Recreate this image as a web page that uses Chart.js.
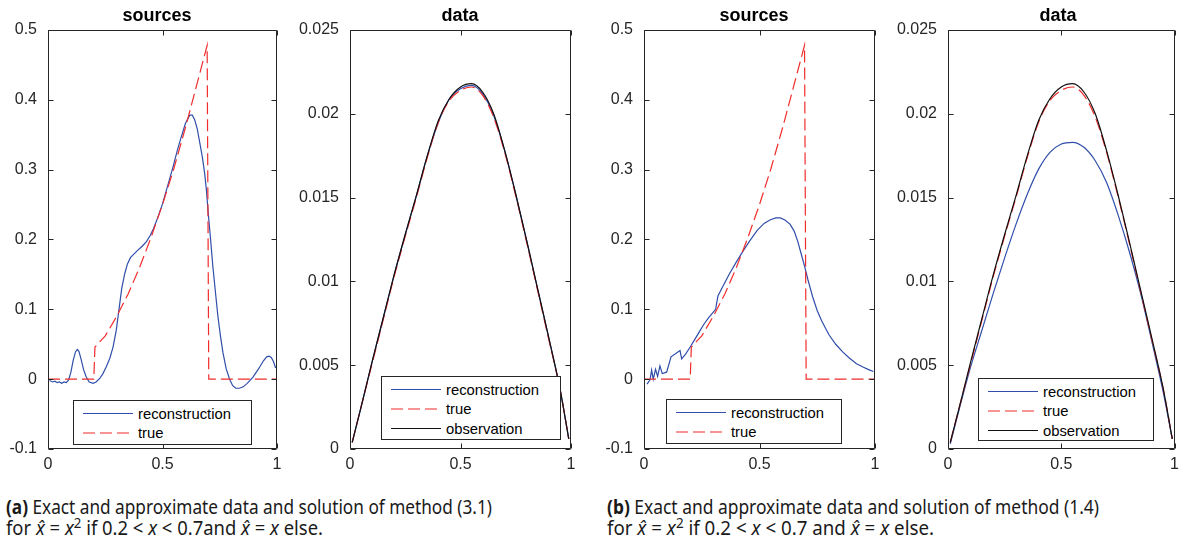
<!DOCTYPE html>
<html><head><meta charset="utf-8">
<script src="https://cdn.jsdelivr.net/npm/chart.js@4.4.0/dist/chart.umd.min.js"></script>
<style>
html,body{margin:0;padding:0;background:#fff;}
body{width:1185px;height:540px;overflow:hidden;position:relative;}
.wrap{position:absolute;top:0;height:480px;}
.ttl{position:absolute;top:4px;width:200px;font:bold 18px "Liberation Sans",Arial,sans-serif;line-height:22px;color:#000;text-align:center;}
.leg{position:absolute;border:1px solid #262626;background:#fff;box-sizing:border-box;}
.leg svg{position:absolute;left:0;top:0;}
.leg span{position:absolute;font:14.8px "Liberation Sans",Arial,sans-serif;color:#000;line-height:20px;white-space:nowrap;}
.cap{position:absolute;top:497px;font:19px "Noto Sans",sans-serif;line-height:21px;color:#1a1a1a;white-space:nowrap;}
.cap div{white-space:nowrap;transform-origin:0 0;}
.cap span.l{display:inline-block;}
.cap sup{font-size:0.72em;line-height:0;vertical-align:0.5em;}
</style></head><body>

<div id="p1" class="wrap" style="left:0px;width:290px"><canvas id="c1" width="290" height="480"></canvas></div>
<div id="p2" class="wrap" style="left:290px;width:300px"><canvas id="c2" width="300" height="480"></canvas></div>
<div id="p3" class="wrap" style="left:590px;width:300px"><canvas id="c3" width="300" height="480"></canvas></div>
<div id="p4" class="wrap" style="left:890px;width:295px"><canvas id="c4" width="295" height="480"></canvas></div>

<div class="ttl" style="left:57px">sources</div>
<div class="ttl" style="left:360px">data</div>
<div class="ttl" style="left:654px">sources</div>
<div class="ttl" style="left:958px">data</div>

<div class="cap" style="left:6px">
  <div data-w="486"><span class="l"><b>(a)</b> Exact and approximate data and solution of method (3.1)</span></div>
  <div data-w="317"><span class="l">for <i>x&#770;</i> = <i>x</i><sup>2</sup> if 0.2 &lt; <i>x</i> &lt; 0.7and <i>x&#770;</i> = <i>x</i> else.</span></div>
</div>
<div class="cap" style="left:607px">
  <div data-w="492"><span class="l"><b>(b)</b> Exact and approximate data and solution of method (1.4)</span></div>
  <div data-w="327"><span class="l">for <i>x&#770;</i> = <i>x</i><sup>2</sup> if 0.2 &lt; <i>x</i> &lt; 0.7 and <i>x&#770;</i> = <i>x</i> else.</span></div>
</div>

<script>
// ---------- tick values and labels ----------
const xTicks = [0, 0.5, 1];
const xTickLabels = ['0', '0.5', '1'];
const sourceTicks = [-0.1, 0, 0.1, 0.2, 0.3, 0.4, 0.5];
const sourceTickLabels = ['-0.1', '0', '0.1', '0.2', '0.3', '0.4', '0.5'];
const dataTicks = [0, 0.005, 0.01, 0.015, 0.02, 0.025];
const dataTickLabels = ['0', '0.005', '0.01', '0.015', '0.02', '0.025'];

// ---------- legend labels ----------
const seriesNames = ['reconstruction', 'true', 'observation'];

// ---------- true source (both methods) ----------
const trueSourceX = [0, 0.2, 0.205, 0.25, 0.3, 0.35, 0.4, 0.45, 0.5, 0.55, 0.6, 0.65, 0.695, 0.702, 1];
const trueSourceY = [0, 0, 0.046, 0.062, 0.09, 0.122, 0.16, 0.203, 0.25, 0.302, 0.36, 0.422, 0.478, 0, 0];

// ---------- reconstructed source, method (3.1) ----------
const reconSourceAX = [0.007,0.02,0.03,0.04,0.05,0.06,0.07,0.08,0.09,0.1,0.11,0.12,0.128,0.135,0.145,0.155,0.167,0.18,0.197,0.21,0.226,0.24,0.255,0.27,0.284,0.298,0.31,0.322,0.335,0.347,0.36,0.375,0.39,0.41,0.43,0.445,0.46,0.48,0.5,0.52,0.546,0.565,0.582,0.6,0.619,0.63,0.64,0.652,0.662,0.674,0.684,0.692,0.699,0.71,0.72,0.732,0.742,0.753,0.764,0.778,0.793,0.806,0.82,0.836,0.852,0.87,0.895,0.92,0.94,0.955,0.965,0.975,0.985,0.994];
const reconSourceAY = [-0.002,-0.004,-0.003,-0.005,-0.004,-0.006,-0.004,-0.005,-0.001,0.01,0.027,0.039,0.0425,0.04,0.028,0.014,0.003,-0.004,-0.006,-0.004,0.001,0.008,0.018,0.03,0.046,0.07,0.1,0.13,0.151,0.165,0.174,0.179,0.184,0.19,0.197,0.205,0.215,0.232,0.251,0.274,0.304,0.328,0.347,0.366,0.378,0.378,0.372,0.358,0.34,0.318,0.295,0.27,0.24,0.2,0.161,0.122,0.09,0.062,0.038,0.015,0.0,-0.009,-0.013,-0.013,-0.011,-0.006,0.003,0.015,0.026,0.032,0.033,0.031,0.025,0.016];

// ---------- reconstructed source, method (1.4) ----------
const reconSourceBX = [0.013,0.02,0.026,0.033,0.04,0.05,0.059,0.069,0.079,0.098,0.117,0.156,0.163,0.18,0.2,0.22,0.24,0.26,0.28,0.3,0.31,0.32,0.34,0.37,0.4,0.43,0.46,0.49,0.52,0.545,0.57,0.59,0.61,0.632,0.65,0.665,0.68,0.695,0.71,0.73,0.75,0.77,0.8,0.83,0.86,0.89,0.92,0.95,0.97,0.993];
const reconSourceBY = [-0.007,-0.004,-0.001,0.013,0.0,0.014,0.004,0.019,0.008,0.01,0.032,0.041,0.029,0.036,0.046,0.057,0.068,0.079,0.088,0.096,0.1,0.119,0.132,0.151,0.168,0.184,0.199,0.213,0.223,0.228,0.231,0.231,0.228,0.222,0.212,0.198,0.18,0.162,0.142,0.118,0.098,0.083,0.064,0.05,0.039,0.03,0.022,0.017,0.014,0.011];

// ---------- data curves ----------
const dataX = [0.01,0.05,0.1,0.15,0.2,0.25,0.3,0.35,0.4,0.45,0.5,0.55,0.6,0.65,0.7,0.75,0.8,0.85,0.9,0.95,0.99];
const observation = [0.0004,0.0025,0.0052,0.0078,0.0104,0.0128,0.0151,0.0175,0.0196,0.0209,0.0216,0.0218,0.0213,0.0200,0.0178,0.0152,0.0124,0.0095,0.0066,0.0036,0.0006];
const trueData = [0.0004,0.0025,0.0051,0.0077,0.0103,0.0127,0.0150,0.0174,0.0195,0.0208,0.0214,0.0216,0.0211,0.0198,0.0177,0.0151,0.0123,0.0094,0.0065,0.0036,0.0006];
const reconDataA = [0.0004,0.0025,0.0052,0.0078,0.0104,0.0128,0.0151,0.0175,0.0195,0.0209,0.0215,0.0217,0.0212,0.0199,0.0178,0.0152,0.0124,0.0095,0.0066,0.0036,0.0006];
const reconDataB = [0.0003,0.0024,0.0049,0.0071,0.0093,0.0114,0.0134,0.0152,0.0167,0.0177,0.0182,0.0183,0.0180,0.0172,0.0159,0.0140,0.0118,0.0093,0.0064,0.0034,0.0006];

// ---------- styles ----------
const BLUE = 'rgb(48,78,170)';
const RED = 'rgb(240,45,45)';
const BLACK = '#111111';
const DASH = [12, 5];
const AXIS_COLOR = '#262626';

function pts(xs, ys) { return xs.map((x, i) => ({x: x, y: ys[i]})); }

const boxPlugin = {
  id: 'matlabBox',
  afterDatasetsDraw(chart) {
    const {ctx, chartArea: a, scales} = chart;
    const xs = scales.x, ys = scales.y;
    ctx.save();
    ctx.strokeStyle = AXIS_COLOR;
    ctx.lineWidth = 1;
    const L = Math.round(a.left) + 0.5, R = Math.round(a.right) - 0.5;
    const T = Math.round(a.top) + 0.5, B = Math.round(a.bottom) - 0.5;
    ctx.beginPath();
    ctx.rect(L, T, R - L, B - T);
    xs.ticks.forEach(t => {
      const p = Math.round(xs.getPixelForValue(t.value)) + 0.5;
      ctx.moveTo(p, B); ctx.lineTo(p, B - 5);
      ctx.moveTo(p, T); ctx.lineTo(p, T + 5);
    });
    ys.ticks.forEach(t => {
      const p = Math.round(ys.getPixelForValue(t.value)) + 0.5;
      ctx.moveTo(L, p); ctx.lineTo(L + 5, p);
      ctx.moveTo(R, p); ctx.lineTo(R - 5, p);
    });
    ctx.stroke();
    ctx.restore();
  }
};

function makeChart(id, yAxisWidth, padRight, yMin, yMax, yTicks, yLabels, datasets) {
  return new Chart(document.getElementById(id), {
    type: 'line',
    data: {datasets: datasets},
    options: {
      responsive: false,
      animation: false,
      devicePixelRatio: 1,
      layout: {padding: {top: 30, right: padRight, bottom: 0, left: 0}},
      elements: {point: {radius: 0}, line: {borderWidth: 1.2}},
      plugins: {legend: {display: false}, tooltip: {enabled: false}, title: {display: false}},
      scales: {
        x: {
          type: 'linear', min: 0, max: 1,
          grid: {display: false, drawTicks: false},
          border: {display: false},
          afterBuildTicks: s => { s.ticks = xTicks.map(v => ({value: v})); },
          afterFit: s => { s.height = 31; },
          ticks: {
            autoSkip: false, maxRotation: 0, padding: 6, color: AXIS_COLOR,
            font: {family: '"Liberation Sans", Arial, sans-serif', size: 16},
            callback: (v, i) => xTickLabels[i]
          }
        },
        y: {
          type: 'linear', min: yMin, max: yMax,
          grid: {display: false, drawTicks: false},
          border: {display: false},
          afterBuildTicks: s => { s.ticks = yTicks.map(v => ({value: v})); },
          afterFit: s => { s.width = yAxisWidth; },
          ticks: {
            autoSkip: false, padding: 11, color: AXIS_COLOR,
            font: {family: '"Liberation Sans", Arial, sans-serif', size: 16},
            callback: (v, i) => yLabels[i]
          }
        }
      }
    },
    plugins: [boxPlugin]
  });
}

function srcSets(rx, ry) {
  return [
    {label: seriesNames[0], data: pts(rx, ry), borderColor: BLUE, tension: 0, order: 1},
    {label: seriesNames[1], data: pts(trueSourceX, trueSourceY), borderColor: RED, borderDash: DASH, tension: 0, order: 0}
  ];
}
function dataSets(recon) {
  return [
    {label: seriesNames[0], data: pts(dataX, recon), borderColor: BLUE, cubicInterpolationMode: 'monotone', order: 2},
    {label: seriesNames[1], data: pts(dataX, trueData), borderColor: RED, borderDash: DASH, cubicInterpolationMode: 'monotone', order: 1},
    {label: seriesNames[2], data: pts(dataX, observation), borderColor: BLACK, cubicInterpolationMode: 'monotone', order: 0}
  ];
}

const charts = [
  makeChart('c1', 48, 13, -0.1, 0.5, sourceTicks, sourceTickLabels, srcSets(reconSourceAX, reconSourceAY)),
  makeChart('c2', 60, 19, 0, 0.025, dataTicks, dataTickLabels, dataSets(reconDataA)),
  makeChart('c3', 54, 15, -0.1, 0.5, sourceTicks, sourceTickLabels, srcSets(reconSourceBX, reconSourceBY)),
  makeChart('c4', 58, 6, 0, 0.025, dataTicks, dataTickLabels, dataSets(reconDataB))
];

// ---------- legends (boxes inside axes, lower part) ----------
const legendBoxes = [
  {chart: 0, left: 73, top: 400, width: 179, height: 45},
  {chart: 1, left: 381, top: 376, width: 180, height: 64},
  {chart: 2, left: 666, top: 399, width: 176, height: 45},
  {chart: 3, left: 978, top: 378, width: 176, height: 63}
];
legendBoxes.forEach(b => {
  const ds = charts[b.chart].data.datasets;
  const div = document.createElement('div');
  div.className = 'leg';
  div.style.left = b.left + 'px'; div.style.top = b.top + 'px';
  div.style.width = b.width + 'px'; div.style.height = b.height + 'px';
  let svg = '<svg width="' + b.width + '" height="' + b.height + '">';
  ds.forEach((d, i) => {
    const cy = 12.5 + i * 19.5;
    svg += '<line x1="9" x2="59" y1="' + cy + '" y2="' + cy + '" stroke="' + d.borderColor + '" stroke-width="1.2"' +
      (d.borderDash ? ' stroke-dasharray="' + d.borderDash.join(',') + '"' : '') + '/>';
  });
  svg += '</svg>';
  div.innerHTML = svg;
  ds.forEach((d, i) => {
    const cy = 12.5 + i * 19.5;
    const s = document.createElement('span');
    s.textContent = d.label;
    s.style.left = '64px';
    s.style.top = (cy - 10) + 'px';
    div.appendChild(s);
  });
  document.body.appendChild(div);
});

// ---------- captions: fit each line to its measured width ----------
document.querySelectorAll('.cap > div').forEach(line => {
  const w = line.querySelector('span.l').getBoundingClientRect().width;
  line.style.transform = 'scaleX(' + (parseFloat(line.dataset.w) / w) + ')';
});
</script>
</body></html>
